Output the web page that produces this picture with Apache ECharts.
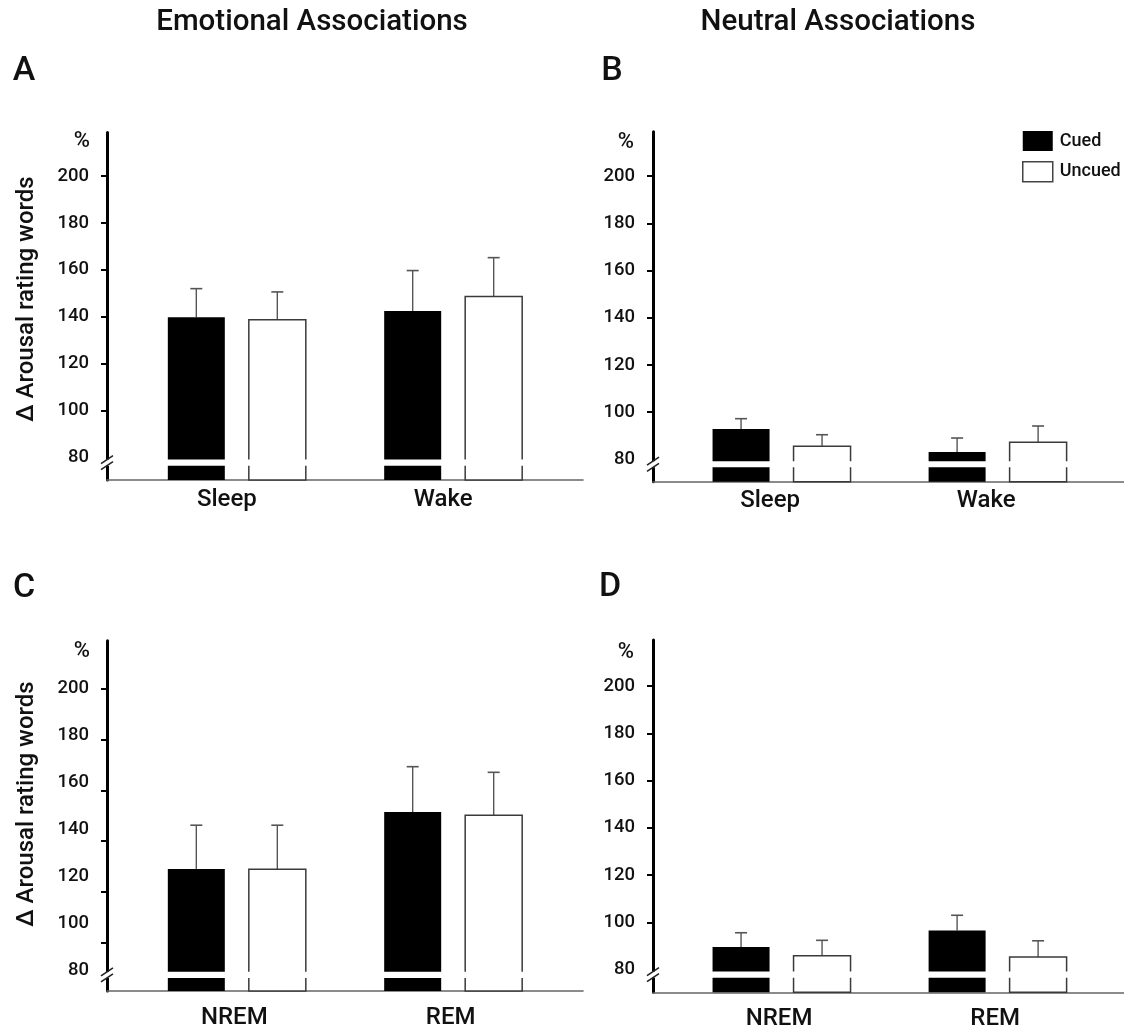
<!DOCTYPE html>
<html>
<head>
<meta charset="utf-8">
<script src="https://cdn.jsdelivr.net/npm/echarts@6/dist/echarts.min.js"></script>
<style>
html,body{margin:0;padding:0;background:#fff;}
#chart{width:1124px;height:1034px;}
</style>
</head>
<body>
<div id="chart"></div>
<script>
// ---------- data ----------
const topCategories = ['Sleep', 'Wake'];
const bottomCategories = ['NREM', 'REM'];
const groupNames = ['Cued', 'Uncued'];
const yLabelValues = [80, 100, 120, 140, 160, 180, 200];
const yTickValues = [100, 120, 140, 160, 180, 200];
const columnTitles = ['Emotional Associations', 'Neutral Associations'];
const panelLetters = ['A', 'B', 'C', 'D'];
const yAxisTitle = '\u0394 Arousal rating words';
const unitLabel = '%';

// A: emotional, sleep / wake
const emoSleepWakeCued = [139.8, 142.5];
const emoSleepWakeCuedErr = [12.2, 17.2];
const emoSleepWakeUncued = [138.8, 148.6];
const emoSleepWakeUncuedErr = [11.8, 16.6];
// B: neutral, sleep / wake
const neuSleepWakeCued = [92.8, 83.1];
const neuSleepWakeCuedErr = [4.4, 5.9];
const neuSleepWakeUncued = [85.5, 87.2];
const neuSleepWakeUncuedErr = [4.9, 6.9];
// C: emotional, NREM / REM
const emoStageCued = [123.0, 147.2];
const emoStageCuedErr = [18.6, 19.3];
const emoStageUncued = [122.9, 145.8];
const emoStageUncuedErr = [18.7, 18.3];
// D: neutral, NREM / REM
const neuStageCued = [89.6, 96.6];
const neuStageCuedErr = [6.0, 6.4];
const neuStageUncued = [85.9, 85.3];
const neuStageUncuedErr = [6.5, 6.9];

// axis break band (drawn as white gap in bars)
const BREAK_HI = 79.2, BREAK_LO = 76.6;

// ---------- layout / style ----------
const FONT = 'Roboto, "Liberation Sans", Arial, sans-serif';
const FW = 500;
const BAR_W = 57, BAR_STEP = 81;

const panels = [
  { cats: topCategories, cued: emoSleepWakeCued, cuedErr: emoSleepWakeCuedErr, uncued: emoSleepWakeUncued, uncuedErr: emoSleepWakeUncuedErr,
    grid: {left: 107, top: 132.5, width: 476, height: 347.5}, x: [-0.6, 1.6], y: [70.5, 218.5], labelShift: 20, labelMargin: 8 },
  { cats: topCategories, cued: neuSleepWakeCued, cuedErr: neuSleepWakeCuedErr, uncued: neuSleepWakeUncued, uncuedErr: neuSleepWakeUncuedErr,
    grid: {left: 653, top: 131.7, width: 471, height: 350}, x: [-0.595, 1.585], y: [70.5, 218.8], labelShift: 23, labelMargin: 7 },
  { cats: bottomCategories, cued: emoStageCued, cuedErr: emoStageCuedErr, uncued: emoStageUncued, uncuedErr: emoStageUncuedErr,
    grid: {left: 107, top: 640.7, width: 476, height: 350.3}, x: [-0.6, 1.6], y: [71.06, 220.1], tickY: [80.96, 219.0], labelShift: 5, labelMargin: 15 },
  { cats: bottomCategories, cued: neuStageCued, cuedErr: neuStageCuedErr, uncued: neuStageUncued, uncuedErr: neuStageUncuedErr,
    grid: {left: 653, top: 640, width: 471, height: 352.3}, x: [-0.595, 1.585], y: [70.4, 219.5], labelShift: 5, labelMargin: 15 }
];

function makeRender(p, si) {
  return function (params, api) {
    const k = api.value(0), mean = api.value(1), err = api.value(2);
    const c = api.coord([k, mean]);
    const cx = c[0] + (si === 0 ? -1 : 1) * BAR_STEP / 2;
    const yTop = c[1];
    const yBase = api.coord([k, p.y[0]])[1];
    const yErr = api.coord([k, mean + err])[1];
    const yGapHi = api.coord([k, BREAK_HI])[1];
    const yGapLo = api.coord([k, BREAK_LO])[1];
    const left = cx - BAR_W / 2;
    const children = [
      {type: 'line', shape: {x1: cx, y1: yTop, x2: cx, y2: yErr}, style: {stroke: '#555', lineWidth: 1.4}},
      {type: 'line', shape: {x1: cx - 6, y1: yErr, x2: cx + 6, y2: yErr}, style: {stroke: '#555', lineWidth: 1.6}},
      {type: 'rect', shape: {x: left, y: yTop, width: BAR_W, height: yBase - yTop},
        style: si === 0 ? {fill: '#000'} : {fill: '#fff', stroke: '#3a3a3a', lineWidth: 1.5}},
      {type: 'rect', shape: {x: left - 2, y: yGapHi, width: BAR_W + 4, height: yGapLo - yGapHi}, style: {fill: '#fff'}}
    ];
    if (si === 0 && params.dataIndex === 0) {
      const a = api.coord([p.x[0], BREAK_HI]);
      const b = api.coord([p.x[0], BREAK_LO]);
      children.push({type: 'rect', shape: {x: a[0] - 3, y: a[1], width: 6, height: b[1] - a[1]}, style: {fill: '#fff'}});
      children.push({type: 'line', shape: {x1: a[0] - 6, y1: a[1] + 4, x2: a[0] + 6, y2: a[1] - 4}, style: {stroke: '#222', lineWidth: 1.5}});
      children.push({type: 'line', shape: {x1: b[0] - 6, y1: b[1] + 4, x2: b[0] + 6, y2: b[1] - 4}, style: {stroke: '#222', lineWidth: 1.5}});
    }
    return {type: 'group', children: children};
  };
}

const option = {
  animation: false,
  backgroundColor: '#fff',
  grid: [], xAxis: [], yAxis: [], series: [],
  legend: {
    orient: 'vertical', left: 1022, top: 131, padding: 0, itemWidth: 30, itemHeight: 20, itemGap: 10,
    selectedMode: false,
    textStyle: {fontSize: 18, color: '#111', fontFamily: FONT, fontWeight: FW, padding: [0, 0, 0, 2]},
    data: [
      {name: groupNames[0], icon: 'rect', itemStyle: {color: '#000', borderWidth: 0}},
      {name: groupNames[1], icon: 'rect', itemStyle: {color: '#fff', borderColor: '#444', borderWidth: 1.5}}
    ]
  },
  graphic: []
};

panels.forEach(function (p, i) {
  option.grid.push(Object.assign({containLabel: false}, p.grid));
  option.xAxis.push({
    type: 'value', gridIndex: i, min: p.x[0], max: p.x[1],
    axisLine: {show: true, onZero: false, lineStyle: {color: '#666', width: 1.6}},
    axisTick: {show: false}, splitLine: {show: false},
    axisLabel: {
      customValues: [0, 1], formatter: function (v) { return p.cats[Math.round(v)]; },
      fontSize: 24, color: '#111', fontFamily: FONT, fontWeight: FW, margin: p.labelMargin, padding: [0, p.labelShift, 0, 0]
    }
  });
  const yIdx = option.yAxis.length;
  option.yAxis.push({
    type: 'value', gridIndex: i, min: p.y[0], max: p.y[1], position: 'left',
    axisLine: {show: true, onZero: false, lineStyle: {color: '#000', width: 3}},
    axisTick: {show: !p.tickY, customValues: yTickValues, length: 6, lineStyle: {color: '#000', width: 2}},
    axisLabel: {customValues: yLabelValues, fontSize: 18.5, color: '#111', fontFamily: FONT, fontWeight: FW, margin: 18},
    splitLine: {show: false}
  });
  if (p.tickY) {
    option.yAxis.push({
      type: 'value', gridIndex: i, min: p.tickY[0], max: p.tickY[1], position: 'left',
      axisLine: {show: false, onZero: false},
      axisTick: {show: true, customValues: yTickValues, length: 6, lineStyle: {color: '#000', width: 2}},
      axisLabel: {show: false}, splitLine: {show: false}
    });
  }
  [[p.cued, p.cuedErr], [p.uncued, p.uncuedErr]].forEach(function (pair, si) {
    option.series.push({
      type: 'custom', name: groupNames[si], xAxisIndex: i, yAxisIndex: yIdx, clip: false,
      renderItem: makeRender(p, si),
      itemStyle: si === 0 ? {color: '#000'} : {color: '#fff', borderColor: '#444', borderWidth: 1.5},
      encode: {x: 0, y: 1},
      data: pair[0].map(function (v, k) { return [k, v, pair[1][k]]; })
    });
  });
});

function txt(text, x, y, size, align, rotation) {
  const el = {
    type: 'text', x: x, y: y, z: 100,
    style: {
      text: text, font: FW + ' ' + size + 'px ' + FONT, fill: '#111',
      align: align, textAlign: align, verticalAlign: 'middle', textVerticalAlign: 'middle'
    }
  };
  if (rotation) el.rotation = rotation;
  return el;
}

option.graphic.push(txt(columnTitles[0], 312, 23, 29.5, 'center'));
option.graphic.push(txt(columnTitles[1], 838, 23, 29.5, 'center'));
option.graphic.push(txt(panelLetters[0], 24, 71, 34, 'center'));
option.graphic.push(txt(panelLetters[1], 612, 71, 34, 'center'));
option.graphic.push(txt(panelLetters[2], 24, 588, 34, 'center'));
option.graphic.push(txt(panelLetters[3], 610, 587, 34, 'center'));
option.graphic.push(txt(unitLabel, 90, 141, 22, 'right'));
option.graphic.push(txt(unitLabel, 634, 142, 22, 'right'));
option.graphic.push(txt(unitLabel, 90, 651, 22, 'right'));
option.graphic.push(txt(unitLabel, 634, 652, 22, 'right'));
option.graphic.push(txt(yAxisTitle, 27, 299, 24, 'center', Math.PI / 2));
option.graphic.push(txt(yAxisTitle, 27, 804, 24, 'center', Math.PI / 2));

const chart = echarts.init(document.getElementById('chart'), null, {renderer: 'canvas'});
chart.setOption(option);
</script>
</body>
</html>
